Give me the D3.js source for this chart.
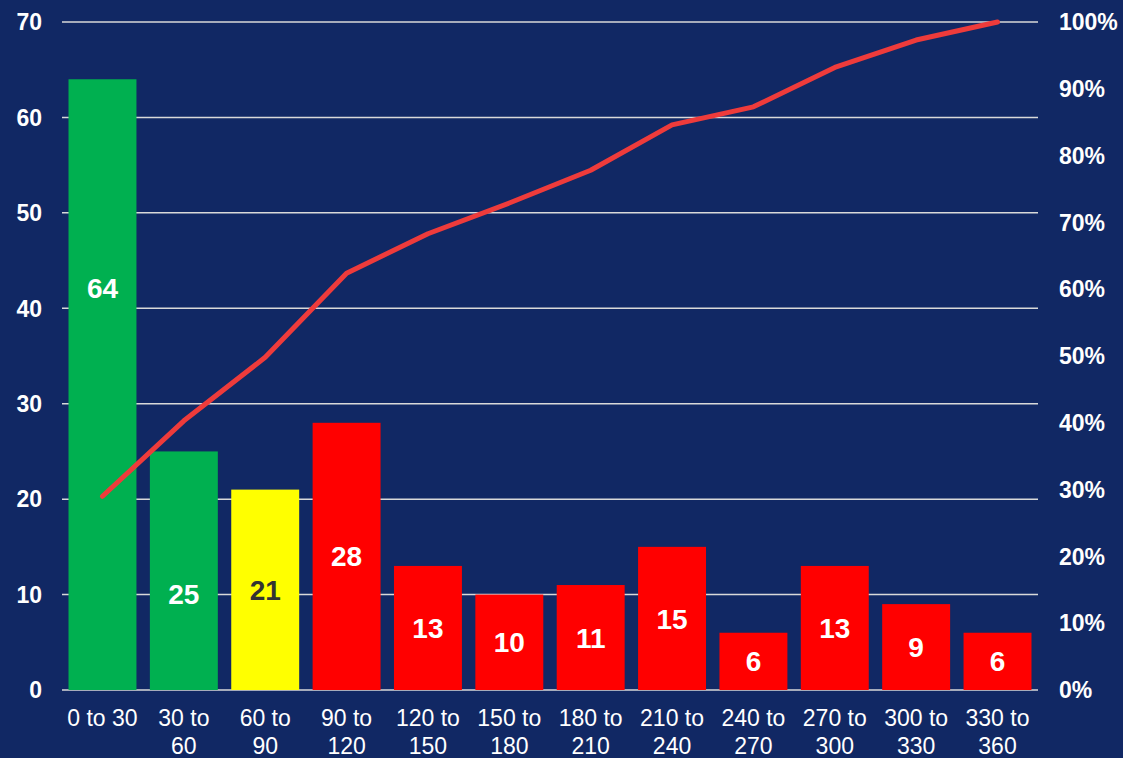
<!DOCTYPE html>
<html>
<head>
<meta charset="utf-8">
<script src="https://cdn.jsdelivr.net/npm/d3@7"></script>
<style>
    html, body { margin: 0; padding: 0; background: #112864; }
    svg { display: block; font-family: "Liberation Sans", Arial, sans-serif; }
</style>
</head>
<body>
<div id="chart"></div>
<script>
// data
const categories = ["0 to 30", "30 to 60", "60 to 90", "90 to 120", "120 to 150", "150 to 180",
    "180 to 210", "210 to 240", "240 to 270", "270 to 300", "300 to 330", "330 to 360"];
const counts = [64, 25, 21, 28, 13, 10, 11, 15, 6, 13, 9, 6];
const cumulativePct = [29.0, 40.3, 49.8, 62.4, 68.3, 72.9, 77.8, 84.6, 87.3, 93.2, 97.3, 100];
const barColors = ["#00B050", "#00B050", "#FFFF00", "#FF0000", "#FF0000", "#FF0000",
    "#FF0000", "#FF0000", "#FF0000", "#FF0000", "#FF0000", "#FF0000"];
const leftTicks = [0, 10, 20, 30, 40, 50, 60, 70];
const rightTicks = [0, 10, 20, 30, 40, 50, 60, 70, 80, 90, 100];

const width = 1123, height = 758;
const margin = { top: 22, right: 85, bottom: 68, left: 62 };

const svg = d3.select("#chart").append("svg")
    .attr("width", width)
    .attr("height", height);

svg.append("rect")
    .attr("width", width)
    .attr("height", height)
    .attr("fill", "#112864");

const x = d3.scaleBand()
    .domain(categories)
    .range([margin.left, width - margin.right])
    .paddingInner(0.165)
    .paddingOuter(0.08);

const y = d3.scaleLinear()
    .domain([0, 70])
    .range([height - margin.bottom, margin.top]);

const yPct = d3.scaleLinear()
    .domain([0, 100])
    .range([height - margin.bottom, margin.top]);

// gridlines
svg.append("g")
    .selectAll("line")
    .data(leftTicks)
    .join("line")
    .attr("x1", margin.left)
    .attr("x2", width - margin.right)
    .attr("y1", d => y(d))
    .attr("y2", d => y(d))
    .attr("stroke", "#D9D9D9")
    .attr("stroke-width", 1.5);

// left axis labels
svg.append("g")
    .selectAll("text")
    .data(leftTicks)
    .join("text")
    .attr("x", 42)
    .attr("y", d => y(d))
    .attr("dy", "0.36em")
    .attr("text-anchor", "end")
    .attr("fill", "#fff")
    .attr("font-size", 23)
    .attr("font-weight", "bold")
    .text(d => d);

// right axis labels
svg.append("g")
    .selectAll("text")
    .data(rightTicks)
    .join("text")
    .attr("x", 1059)
    .attr("y", d => yPct(d))
    .attr("dy", "0.36em")
    .attr("text-anchor", "start")
    .attr("fill", "#fff")
    .attr("font-size", 23)
    .attr("font-weight", "bold")
    .text(d => d + "%");

// bars
svg.append("g")
    .selectAll("rect")
    .data(counts)
    .join("rect")
    .attr("x", (d, i) => x(categories[i]))
    .attr("y", d => y(d))
    .attr("width", x.bandwidth())
    .attr("height", d => y(0) - y(d))
    .attr("fill", (d, i) => barColors[i]);

// bar value labels, centred except where the line would cross them
const labelShift = { 0: 42.1, 1: 10.1 };
svg.append("g")
    .selectAll("text")
    .data(counts)
    .join("text")
    .attr("x", (d, i) => x(categories[i]) + x.bandwidth() / 2)
    .attr("y", (d, i) => y(labelShift[i] !== undefined ? labelShift[i] : d / 2))
    .attr("dy", "0.36em")
    .attr("text-anchor", "middle")
    .attr("fill", (d, i) => barColors[i] === "#FFFF00" ? "#333333" : "#fff")
    .attr("font-size", 28)
    .attr("font-weight", "bold")
    .text(d => d);

// x labels, wrapped like the original
const xLabels = svg.append("g")
    .selectAll("text")
    .data(categories)
    .join("text")
    .attr("x", d => x(d) + x.bandwidth() / 2)
    .attr("y", 726)
    .attr("text-anchor", "middle")
    .attr("fill", "#fff")
    .attr("font-size", 23);

xLabels.each(function (d, i) {
    const t = d3.select(this);
    const lines = i === 0 ? [d] : [d.slice(0, d.lastIndexOf(" ")), d.slice(d.lastIndexOf(" ") + 1)];
    lines.forEach((line, j) => {
        t.append("tspan")
            .attr("x", x(d) + x.bandwidth() / 2)
            .attr("dy", j === 0 ? 0 : 28)
            .text(line);
    });
});

// cumulative line
const line = d3.line()
    .x((d, i) => x(categories[i]) + x.bandwidth() / 2)
    .y(d => yPct(d));

svg.append("path")
    .datum(cumulativePct)
    .attr("d", line)
    .attr("fill", "none")
    .attr("stroke", "#EE3B3B")
    .attr("stroke-width", 5)
    .attr("stroke-linejoin", "round")
    .attr("stroke-linecap", "round");
</script>
</body>
</html>
